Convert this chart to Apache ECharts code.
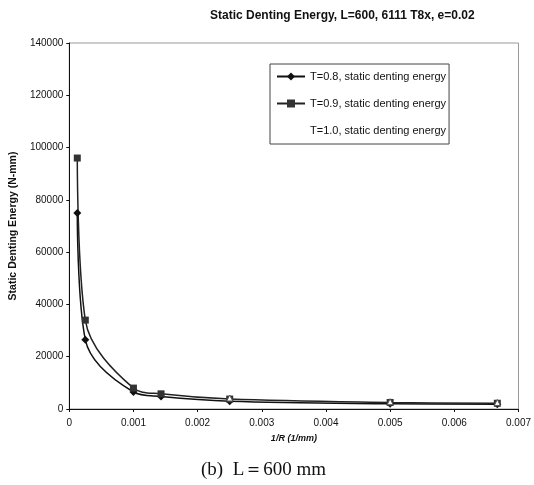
<!DOCTYPE html>
<html>
<head>
<meta charset="utf-8">
<script src="https://cdn.jsdelivr.net/npm/echarts@6/dist/echarts.min.js"></script>
<style>
  html, body {margin: 0; padding: 0; background: #fff;}
  #chart {width: 534px; height: 485px;}
</style>
</head>
<body>
<div id="chart"></div>
<script>
// 1/R values (1/mm) and static denting energy (N-mm)
const xT08 = [0.000125, 0.00025, 0.001, 0.00143, 0.0025, 0.005, 0.00667];
const yT08 = [75000, 26500, 6500, 4800, 3000, 2000, 1800];
const xT09 = [0.000125, 0.00025, 0.001, 0.00143, 0.0025, 0.005, 0.00667];
const yT09 = [96000, 34000, 8000, 5800, 3800, 2500, 2200];
const xT10 = [0.0025, 0.005, 0.00667];
const yT10 = [4200, 2800, 2500];
const seriesNames = [
  'T=0.8, static denting energy',
  'T=0.9, static denting energy',
  'T=1.0, static denting energy'
];

const pairs = (xs, ys) => xs.map((x, i) => [x, ys[i]]);

const chart = echarts.init(document.getElementById('chart'));
chart.setOption({
  animation: false,
  backgroundColor: '#fff',
  title: [{
    text: 'Static Denting Energy, L=600, 6111 T8x, e=0.02',
    left: 205, top: 5,
    textStyle: {fontFamily: 'Liberation Sans', fontSize: 12, fontWeight: 'bold', color: '#111'}
  }, {
    text: '(b)  L\uFF1D600 mm',
    left: 196, top: 456,
    textStyle: {fontFamily: 'Liberation Serif', fontSize: 19, fontWeight: 'normal', color: '#111'}
  }],
  legend: {
    orient: 'vertical',
    left: 270, top: 64,
    padding: [7, 3, 8, 6],
    itemGap: 16,
    itemWidth: 28, itemHeight: 10,
    backgroundColor: '#fff',
    borderColor: '#444', borderWidth: 1,
    textStyle: {fontFamily: 'Liberation Sans', fontSize: 11, color: '#111'},
    data: [
      {name: seriesNames[0]},
      {name: seriesNames[1]},
      {name: seriesNames[2], itemStyle: {opacity: 0}, lineStyle: {opacity: 0}}
    ]
  },
  grid: {
    left: 67, right: 13, top: 43, bottom: 76,
    show: true, borderColor: '#999', borderWidth: 1
  },
  xAxis: {
    type: 'value',
    min: 0, max: 0.007, interval: 0.001,
    name: '1/R (1/mm)',
    nameLocation: 'middle', nameGap: 25,
    nameTextStyle: {fontFamily: 'Liberation Sans', fontSize: 9, fontWeight: 'bold', fontStyle: 'italic', color: '#111'},
    axisLine: {lineStyle: {color: '#111', width: 1}},
    axisTick: {show: true, length: 3, lineStyle: {color: '#111'}},
    axisLabel: {
      fontFamily: 'Liberation Sans', fontSize: 10, color: '#111', margin: 9,
      formatter: v => (v === 0 ? '0' : v.toFixed(3))
    },
    splitLine: {show: false}
  },
  yAxis: {
    type: 'value',
    min: 0, max: 140000, interval: 20000,
    name: 'Static Denting Energy (N-mm)',
    nameLocation: 'middle', nameGap: 50,
    nameTextStyle: {fontFamily: 'Liberation Sans', fontSize: 10.5, fontWeight: 'bold', color: '#111'},
    axisLine: {show: true, lineStyle: {color: '#111', width: 1}},
    axisTick: {show: true, length: 3, lineStyle: {color: '#111'}},
    axisLabel: {
      fontFamily: 'Liberation Sans', fontSize: 10, color: '#111', margin: 6,
      formatter: v => String(v)
    },
    splitLine: {show: false}
  },
  series: [{
    name: seriesNames[0],
    type: 'line',
    data: pairs(xT08, yT08),
    smooth: 0.35,
    symbol: 'diamond', symbolSize: 8,
    itemStyle: {color: '#111'},
    lineStyle: {color: '#111', width: 1.5}
  }, {
    name: seriesNames[1],
    type: 'line',
    data: pairs(xT09, yT09),
    smooth: 0.35,
    symbol: 'rect', symbolSize: 7,
    itemStyle: {color: '#333'},
    lineStyle: {color: '#222', width: 1.5}
  }, {
    name: seriesNames[2],
    type: 'line',
    data: pairs(xT10, yT10),
    smooth: 0.35,
    symbol: 'triangle', symbolSize: 6,
    itemStyle: {color: '#fff', borderColor: '#555', borderWidth: 1},
    lineStyle: {color: '#fff', width: 0}
  }]
});
</script>
</body>
</html>
